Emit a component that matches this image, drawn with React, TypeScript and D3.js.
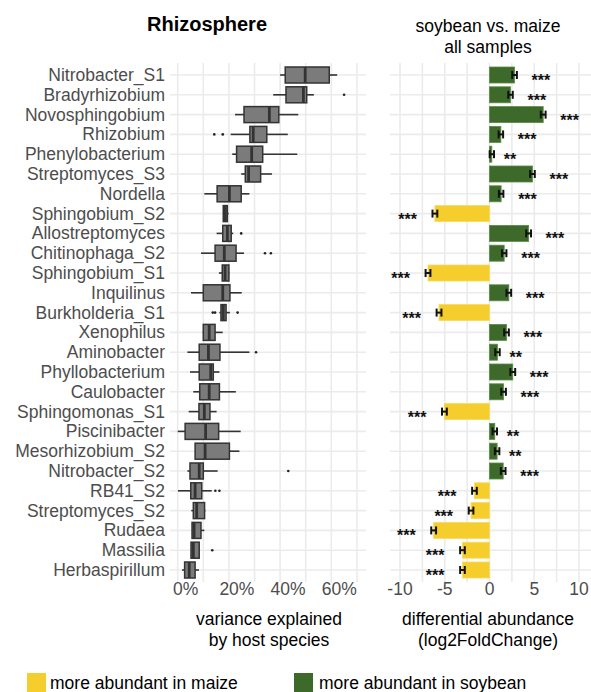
import React from "react";
import * as d3 from "d3";

const categories = [
  "Nitrobacter_S1", "Bradyrhizobium", "Novosphingobium", "Rhizobium", "Phenylobacterium",
  "Streptomyces_S3", "Nordella", "Sphingobium_S2", "Allostreptomyces", "Chitinophaga_S2",
  "Sphingobium_S1", "Inquilinus", "Burkholderia_S1", "Xenophilus", "Aminobacter",
  "Phyllobacterium", "Caulobacter", "Sphingomonas_S1", "Piscinibacter", "Mesorhizobium_S2",
  "Nitrobacter_S2", "RB41_S2", "Streptomyces_S2", "Rudaea", "Massilia", "Herbaspirillum",
];

// variance explained by host species (%)
const whiskerLow = [40.0, 37.3, 22.4, 20.7, 21.3, 24.8, 10.4, 17.7, 15.2, 9.1, 16.1, 5.2, 16.3, 9.8, 3.8, 4.8, 6.1, 4.3, 0.0, 6.8, 3.8, 0.1, 5.3, 5.6, 5.2, 1.7];
const boxQ1 = [42.0, 42.3, 25.9, 28.2, 23.0, 26.4, 15.4, 17.8, 17.6, 14.6, 17.4, 10.0, 16.9, 10.0, 8.4, 8.4, 8.6, 8.3, 2.9, 6.8, 4.8, 5.1, 6.1, 5.6, 5.2, 2.7];
const boxMedian = [49.8, 49.1, 35.8, 29.5, 28.9, 27.7, 20.2, 18.6, 19.4, 18.2, 18.5, 17.6, 17.8, 12.3, 12.0, 12.9, 12.3, 10.4, 10.9, 10.7, 8.4, 6.8, 7.4, 6.4, 6.1, 4.5];
const boxQ3 = [59.2, 50.4, 39.5, 34.8, 33.2, 32.4, 24.8, 19.4, 20.9, 22.8, 20.0, 20.4, 18.9, 14.6, 16.5, 13.9, 16.3, 12.6, 16.0, 20.2, 10.0, 9.4, 10.5, 9.1, 8.4, 6.8];
const whiskerHigh = [62.3, 53.2, 47.1, 43.0, 46.7, 36.8, 28.0, 19.9, 21.7, 25.9, 20.2, 25.0, 20.4, 17.6, 28.0, 16.3, 22.7, 15.2, 24.6, 24.1, 15.6, 13.3, 10.8, 10.4, 8.4, 8.3];
const outliers: number[][] = [
  [], [65.0], [], [14.3, 17.6], [], [], [], [], [24.8], [34.1, 36.4],
  [], [], [13.7, 14.6, 23.4], [], [30.6], [], [], [], [], [],
  [43.2], [14.7, 16.3], [], [], [13.5], [],
];
const varTicks = [0, 20, 40, 60];
const varGrid = [0, 10, 20, 30, 40, 50, 60, 70];

// differential abundance, soybean vs. maize (log2FoldChange)
const log2FC = [2.8, 2.35, 6.0, 1.27, 0.26, 4.8, 1.3, -6.1, 4.37, 1.64, -6.87, 2.16, -5.64, 1.9, 0.89, 2.6, 1.57, -5.04, 0.59, 0.85, 1.53, -1.68, -2.06, -6.24, -3.02, -3.02];
const lfcSE = [0.26, 0.25, 0.27, 0.25, 0.24, 0.26, 0.25, 0.27, 0.27, 0.25, 0.27, 0.26, 0.27, 0.26, 0.25, 0.27, 0.26, 0.27, 0.25, 0.25, 0.26, 0.26, 0.26, 0.27, 0.26, 0.26];
const signif = ["***", "***", "***", "***", "**", "***", "***", "***", "***", "***", "***", "***", "***", "***", "**", "***", "***", "***", "**", "**", "***", "***", "***", "***", "***", "***"];
const lfcTicks = [-10, -5, 0, 5, 10];
const lfcGrid = [-10, -7.5, -5, -2.5, 0, 2.5, 5, 7.5, 10];

const legendLabels = ["more abundant in maize", "more abundant in soybean"];

const FONT = "'Liberation Sans', Arial, Helvetica, sans-serif";
const YELLOW = "#F5CE2E";
const GREEN = "#3D6A2A";
const GRID = "#EBEBEB";
const TXT = "#4D4D4D";

export default function App() {
  const W = 591, H = 692;
  const y = d3.scalePoint<string>().domain(categories).range([75, 570]);
  const step = y.step();
  const top = 75 - step * 0.6;
  const bottom = 570 + step * 0.6;
  const xL = d3.scaleLinear().domain([0, 70]).range([177.7, 356.9]);
  const xR = d3.scaleLinear().domain([-10, 10]).range([400, 579]);
  const leftPanel = [170, 366];
  const rightPanel = [390, 591];
  const boxH = 16;

  return (
    <svg width={W} height={H} style={{ position: "absolute", left: 0, top: 0, background: "#fff" }} fontFamily={FONT}>
      {/* titles */}
      <text x={207} y={31} textAnchor="middle" fontSize={20} fontWeight="bold" fill="#000">Rhizosphere</text>
      <text x={488} y={32} textAnchor="middle" fontSize={17.5} fill="#000">soybean vs. maize</text>
      <text x={488} y={53} textAnchor="middle" fontSize={17.5} fill="#000">all samples</text>

      {/* left panel grid */}
      {categories.map((c) => (
        <line key={"hl" + c} x1={leftPanel[0]} x2={leftPanel[1]} y1={y(c)} y2={y(c)} stroke={GRID} strokeWidth={1.6} />
      ))}
      {varGrid.map((v) => (
        <line key={"vl" + v} x1={xL(v)} x2={xL(v)} y1={top} y2={bottom} stroke={GRID} strokeWidth={1.6} />
      ))}
      {/* right panel grid */}
      {categories.map((c) => (
        <line key={"hr" + c} x1={rightPanel[0]} x2={rightPanel[1]} y1={y(c)} y2={y(c)} stroke={GRID} strokeWidth={1.6} />
      ))}
      {lfcGrid.map((v) => (
        <line key={"vr" + v} x1={xR(v)} x2={xR(v)} y1={top} y2={bottom} stroke={GRID} strokeWidth={1.6} />
      ))}

      {/* category labels */}
      {categories.map((c) => (
        <text key={"lab" + c} x={165} y={(y(c) as number) + 6} textAnchor="end" fontSize={17.5} fill={TXT}>{c}</text>
      ))}

      {/* boxplots */}
      {categories.map((c, i) => {
        const cy = y(c) as number;
        return (
          <g key={"box" + c}>
            <line x1={xL(whiskerLow[i])} x2={xL(boxQ1[i])} y1={cy} y2={cy} stroke="#333" strokeWidth={1.6} />
            <line x1={xL(boxQ3[i])} x2={xL(whiskerHigh[i])} y1={cy} y2={cy} stroke="#333" strokeWidth={1.6} />
            <rect x={xL(boxQ1[i])} y={cy - boxH / 2} width={Math.max(xL(boxQ3[i]) - xL(boxQ1[i]), 1)} height={boxH}
              fill="#7B7B7B" stroke="#333" strokeWidth={1.5} />
            <line x1={xL(boxMedian[i])} x2={xL(boxMedian[i])} y1={cy - boxH / 2} y2={cy + boxH / 2} stroke="#333" strokeWidth={2.8} />
            {outliers[i].map((o, j) => (
              <circle key={j} cx={xL(o)} cy={cy} r={1.3} fill="#222" />
            ))}
          </g>
        );
      })}

      {/* bars */}
      {categories.map((c, i) => {
        const cy = y(c) as number;
        const v = log2FC[i];
        const se = lfcSE[i];
        const x0 = xR(Math.min(0, v));
        const x1 = xR(Math.max(0, v));
        const pos = v >= 0;
        const starX = pos ? xR(v) + (signif[i].length === 3 ? 17 : 12) : xR(v) - 18;
        return (
          <g key={"bar" + c}>
            <rect x={x0} y={cy - boxH / 2} width={x1 - x0} height={boxH} fill={pos ? GREEN : YELLOW}
              stroke={pos ? "#5B8A45" : "#F7DA5E"} strokeWidth={0.8} />
            <line x1={xR(v - se)} x2={xR(v + se)} y1={cy} y2={cy} stroke="#111" strokeWidth={2} />
            <line x1={xR(v - se)} x2={xR(v - se)} y1={cy - 4} y2={cy + 4} stroke="#111" strokeWidth={2} />
            <line x1={xR(v + se)} x2={xR(v + se)} y1={cy - 4} y2={cy + 4} stroke="#111" strokeWidth={2} />
            <text x={starX} y={cy + 11} textAnchor={pos ? "start" : "end"} fontSize={16} fontWeight="bold" fill="#111">{signif[i]}</text>
          </g>
        );
      })}

      {/* x tick labels */}
      {varTicks.map((v) => (
        <text key={"tl" + v} x={xL(v) + 8} y={595} textAnchor="middle" fontSize={17.5} fill={TXT}>{v + "%"}</text>
      ))}
      {lfcTicks.map((v) => (
        <text key={"tr" + v} x={xR(v)} y={595} textAnchor="middle" fontSize={17.5} fill={TXT}>{String(v)}</text>
      ))}

      {/* axis titles */}
      <text x={269} y={625} textAnchor="middle" fontSize={17.5} fill="#000">variance explained</text>
      <text x={269} y={646} textAnchor="middle" fontSize={17.5} fill="#000">by host species</text>
      <text x={488} y={625} textAnchor="middle" fontSize={17.5} fill="#000">differential abundance</text>
      <text x={488} y={646} textAnchor="middle" fontSize={17.5} fill="#000">(log2FoldChange)</text>

      {/* legend */}
      <rect x={27} y={673} width={19} height={19} fill={YELLOW} />
      <text x={50} y={689} fontSize={17.5} fill="#000">{legendLabels[0]}</text>
      <rect x={294} y={673} width={19} height={19} fill={GREEN} />
      <text x={319} y={689} fontSize={17.5} fill="#000">{legendLabels[1]}</text>
    </svg>
  );
}
